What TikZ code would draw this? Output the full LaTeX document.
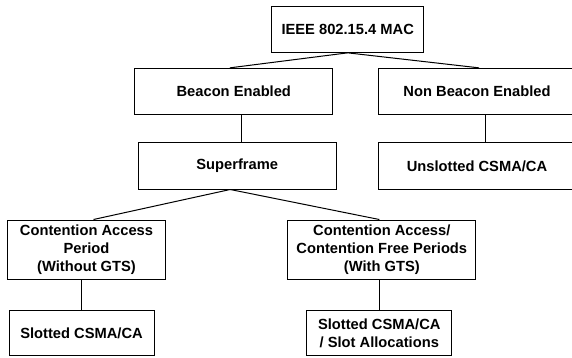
\documentclass[tikz,border=0pt]{standalone}
\usepackage{fontspec}
\setmainfont{Liberation Sans}
\tikzset{every node/.style={align=center,
           font=\fontsize{14.7}{18}\selectfont\bfseries},
         block/.style={ % Sets the properties for each box
           draw, rectangle, line width=1pt,
           minimum height=45.7pt},
         every edge/.style={  % Sets the properties for each link
           draw, line width=1pt}}

\begin{document}
\begin{tikzpicture}[x=1pt, y=-1pt]
  \useasboundingbox (0,0) rectangle (572,358);

  \node [block, minimum width=152pt] (mac) at (347.7,29.5) {IEEE 802.15.4 MAC};
  \node [block, minimum width=197.7pt] (beacon) at (233.8,91.2) {Beacon Enabled};
  \node [block, minimum width=197.4pt] (nonbeacon) at (477,91.2) {Non Beacon Enabled};
  \node [block, minimum width=197.7pt, minimum height=46pt] (superframe) at (237.2,166) {Superframe};
  \node [block, minimum width=197.4pt, minimum height=46pt] (unslotted) at (477,166) {Unslotted CSMA/CA};
  \node [block, minimum width=158.4pt, minimum height=59pt] (cap) at (86.5,249.5) {
    Contention Access\\
    Period\\
    (Without GTS)
  };
  \node [block, minimum width=188.3pt, minimum height=59pt] (cfp) at (381.8,249.5) {
    Contention Access/\\
    Contention Free Periods\\
    (With GTS)
  };
  \node [block, minimum width=145pt] (slotted) at (81.5,332.9) {Slotted CSMA/CA};
  \node [block, minimum width=144.7pt] (slotalloc) at (379.3,332.9) {
    Slotted CSMA/CA\\
    / Slot Allocations
  };

  \draw (mac.south) edge ([xshift=-4pt]beacon.north);
  \draw (mac.south) edge ([xshift=2pt]nonbeacon.north);

  \draw ([xshift=8pt]beacon.south) edge ([xshift=8pt]beacon.south |- superframe.north);
  \draw ([xshift=8pt]nonbeacon.south) edge ([xshift=8pt]nonbeacon.south |- unslotted.north);

  % superframe splits in two
  \draw ([xshift=-7pt]superframe.south) edge ([xshift=7pt]cap.north);
  \draw ([xshift=-7pt]superframe.south) edge ([xshift=-2.5pt]cfp.north);

  \draw (slotted.north |- cap.south) edge (slotted.north);
  \draw (slotalloc.north |- cfp.south) edge (slotalloc.north);

\end{tikzpicture}
\end{document}
